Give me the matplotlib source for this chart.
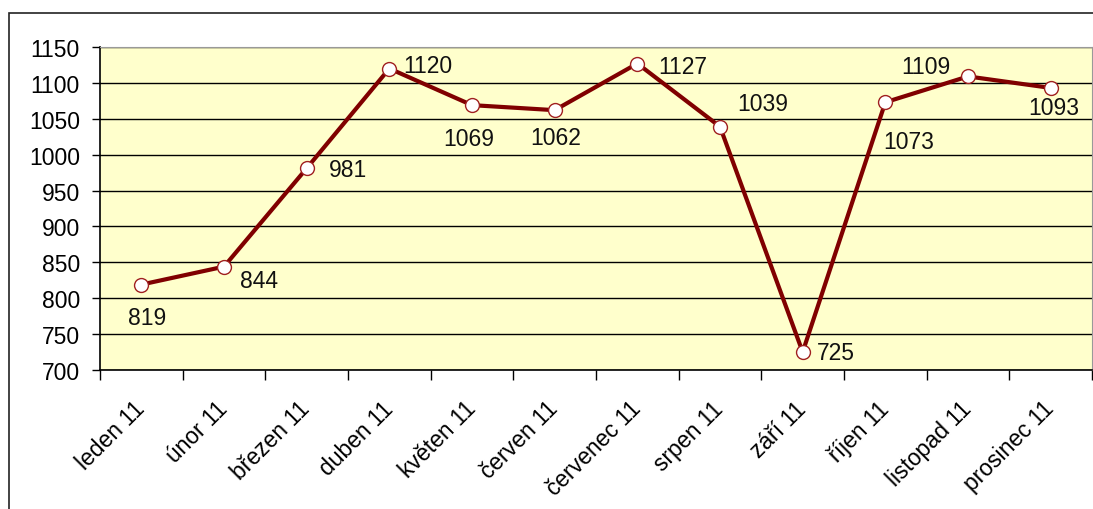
import matplotlib.pyplot as plt
from matplotlib.patches import Rectangle

plt.rcParams['font.family'] = ['Liberation Sans', 'DejaVu Sans']

months = ['leden 11', 'únor 11', 'březen 11', 'duben 11', 'květen 11', 'červen 11',
          'červenec 11', 'srpen 11', 'září 11', 'říjen 11', 'listopad 11', 'prosinec 11']
values = [819, 844, 981, 1120, 1069, 1062, 1127, 1039, 725, 1073, 1109, 1093]
# where each value label sits relative to its point (points)
label_offsets = [(4, -24), (25, -10), (30, -1), (28, 2), (-2, -24), (1, -20),
                 (33, -2), (31, 17), (24, 0), (17, -28), (-30, 7), (2, -14)]

fig = plt.figure(figsize=(10.93, 5.10), dpi=100)
ax = fig.add_axes([100 / 1093, 1 - 371 / 510, 992 / 1093, 323 / 510])

# outer chart frame (left and top edges visible)
fig.patches.append(Rectangle((9 / 1093, -0.2), 1.2, 1.2 - 14 / 510,
                             transform=fig.transFigure, fill=False,
                             edgecolor='#222222', linewidth=1.2))

ax.set_facecolor('#FFFFCC')
x = range(len(months))
ax.plot(x, values, color='#800000', linewidth=3, marker='o', markersize=10,
        markerfacecolor='white', markeredgecolor='#A02020', markeredgewidth=1,
        zorder=3)

for i, v in enumerate(values):
    ax.annotate(str(v), (i, v), xytext=label_offsets[i], textcoords='offset points',
                ha='center', va='center', fontsize=16.5, color='#111111')

ax.set_xlim(-0.5, len(months) - 0.5)
ax.set_ylim(700, 1150)
ax.set_yticks(range(700, 1151, 50))
ax.yaxis.grid(True, color='#000000', linewidth=1)
ax.set_axisbelow(True)

ax.set_xticks([i - 0.5 for i in range(len(months) + 1)], minor=False)
ax.set_xticklabels([])
ax.set_xticks(list(x), minor=True)
ax.set_xticklabels(months, minor=True, rotation=45, ha='right', va='center',
                   rotation_mode='anchor', fontsize=16.5)
ax.tick_params(axis='x', which='minor', length=0, pad=25)
ax.tick_params(axis='x', which='major', length=7, width=1, direction='out')
ax.tick_params(axis='y', length=6, width=1, direction='out', labelsize=16.5, pad=8.5)

for side in ['top', 'right']:
    ax.spines[side].set_color('#999999')
for side in ['left', 'bottom']:
    ax.spines[side].set_color('#000000')
    ax.spines[side].set_linewidth(1.2)

fig.savefig('out.png', dpi=100)
